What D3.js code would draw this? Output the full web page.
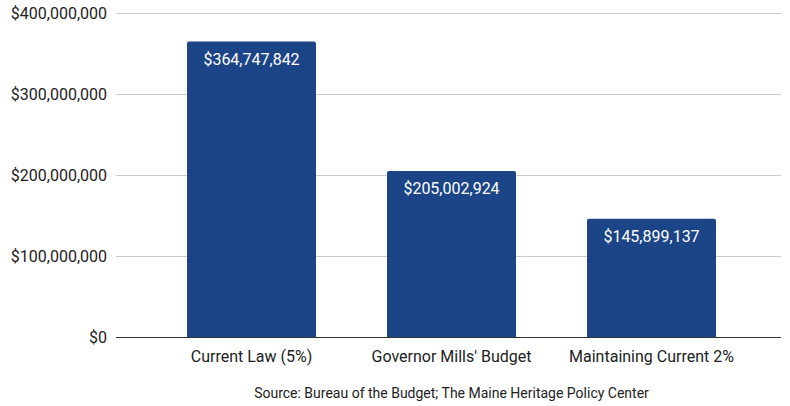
<!DOCTYPE html>
<html><head><meta charset="utf-8">
<script src="https://cdn.jsdelivr.net/npm/d3@7"></script>
<style>body{margin:0;background:#fff;}svg{display:block;font-family:Roboto,"Noto Sans",sans-serif;}</style>
</head><body><svg id="c" width="790" height="406"></svg>
<script>
const categories = ["Current Law (5%)", "Governor Mills' Budget", "Maintaining Current 2%"];
const values = [364747842, 205002924, 145899137];
const yTicks = [0, 100000000, 200000000, 300000000, 400000000];
const source = "Source: Bureau of the Budget; The Maine Heritage Policy Center";

(function () {
const svg = d3.select("#c");
const plotL = 116, plotR = 781, plotTop = 13, plotBottom = 337;
const x = d3.scaleBand().domain(categories).range([151.5, 751.5]).paddingInner(0.355).paddingOuter(0.1775);
const y = d3.scaleLinear().domain([0, 400000000]).range([plotBottom, plotTop]);
const fmt = d3.format("$,");

// gridlines
svg.append("g").selectAll("line").data(yTicks.filter(d => d > 0)).join("line")
  .attr("x1", plotL).attr("x2", plotR)
  .attr("y1", d => Math.round(y(d)) + 0.5).attr("y2", d => Math.round(y(d)) + 0.5)
  .attr("stroke", "#cccccc").attr("stroke-width", 1);

// y labels
svg.append("g").selectAll("text").data(yTicks).join("text")
  .attr("x", 107).attr("y", d => y(d)).attr("dy", "0.36em")
  .attr("text-anchor", "end").attr("font-size", 16).attr("fill", "#222")
  .text(d => fmt(d));

// bars
const r = 2;
svg.append("g").selectAll("path").data(values).join("path")
  .attr("fill", "#1c4587")
  .attr("d", (d, i) => {
    const x0 = x(categories[i]), w = x.bandwidth(), y0 = y(d), y1 = y(0);
    return `M${x0},${y1}V${y0 + r}Q${x0},${y0} ${x0 + r},${y0}H${x0 + w - r}Q${x0 + w},${y0} ${x0 + w},${y0 + r}V${y1}Z`;
  });

// value labels
svg.append("g").selectAll("text").data(values).join("text")
  .attr("x", (d, i) => x(categories[i]) + x.bandwidth() / 2)
  .attr("y", d => y(d) + 23)
  .attr("text-anchor", "middle").attr("font-size", 16).attr("fill", "#ffffff")
  .text(d => fmt(d));

// zero line
svg.append("line").attr("x1", plotL).attr("x2", plotR)
  .attr("y1", Math.round(y(0)) + 0.5).attr("y2", Math.round(y(0)) + 0.5)
  .attr("stroke", "#333333").attr("stroke-width", 1);

// category labels
svg.append("g").selectAll("text").data(categories).join("text")
  .attr("x", d => x(d) + x.bandwidth() / 2).attr("y", 362)
  .attr("text-anchor", "middle").attr("font-size", 16).attr("fill", "#222")
  .text(d => d);

// source
svg.append("text").attr("x", 451.5).attr("y", 398)
  .attr("text-anchor", "middle").attr("font-size", 14).attr("fill", "#222")
  .text(source);
})();
</script></body></html>
